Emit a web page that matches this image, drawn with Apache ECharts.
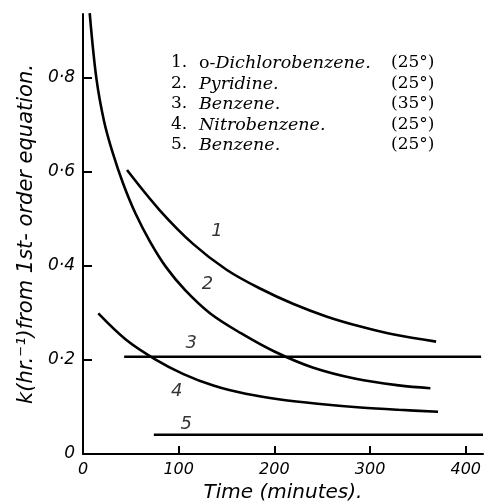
<!DOCTYPE html>
<html>
<head>
<meta charset="utf-8">
<script src="https://cdn.jsdelivr.net/npm/echarts@6/dist/echarts.min.js"></script>
<style>
html, body { margin: 0; padding: 0; background: #fff; }
#chart { width: 485px; height: 501px; }
</style>
</head>
<body>
<div id="chart"></div>
<script>
// time (minutes) and k (hr^-1)
var dichloroT = [46, 80, 115, 150, 185, 220, 255, 290, 325, 369];
var dichloroK = [0.604, 0.519, 0.447, 0.392, 0.352, 0.319, 0.292, 0.271, 0.254, 0.239];

var pyridineT = [7, 14, 22, 31, 42, 55, 70, 87, 107, 133, 165, 200, 240, 285, 330, 363];
var pyridineK = [0.938, 0.799, 0.708, 0.641, 0.575, 0.511, 0.452, 0.397, 0.348, 0.299, 0.257, 0.218, 0.184, 0.160, 0.146, 0.140];

var benzene35T = [43, 416];
var benzene35K = [0.207, 0.207];

var nitroT = [16, 45, 75, 105, 137, 170, 206, 245, 290, 330, 371];
var nitroK = [0.299, 0.243, 0.202, 0.170, 0.145, 0.128, 0.116, 0.107, 0.099, 0.094, 0.090];

var benzene25T = [74, 418];
var benzene25K = [0.041, 0.041];

var curveTags = ['1', '2', '3', '4', '5'];
var tagT = [140, 130, 113, 98, 108];
var tagK = [0.473, 0.36, 0.236, 0.133, 0.063];

var keyNames = ['o-Dichlorobenzene.', 'Pyridine.', 'Benzene.', 'Nitrobenzene.', 'Benzene.'];
var keyTemps = ['(25°)', '(25°)', '(35°)', '(25°)', '(25°)'];

var xLabelValues = [0, 100, 200, 300, 400];
var yLabelValues = [0, 0.2, 0.4, 0.6, 0.8];

function zip(a, b) {
  var out = [];
  for (var i = 0; i < a.length; i++) out.push([a[i], b[i]]);
  return out;
}

var chart = echarts.init(document.getElementById('chart'));

function curve(name, t, k, smooth) {
  return {
    name: name,
    type: 'line',
    smooth: smooth ? 0.35 : false,
    symbol: 'none',
    silent: true,
    lineStyle: { color: '#000', width: 2.6 },
    data: zip(t, k)
  };
}

var tagData = [];
for (var i = 0; i < curveTags.length; i++) {
  tagData.push({ name: curveTags[i], value: [tagT[i], tagK[i]] });
}

// key in the upper right
var keyRows = [64, 85, 105.5, 126.5, 146.5];
var graphics = [];
for (var j = 0; j < keyNames.length; j++) {
  graphics.push({
    type: 'text', left: 171, top: keyRows[j] - 10,
    style: { text: (j + 1) + '.', font: '17px "DejaVu Serif"', fill: '#000' }
  });
  var nm = keyNames[j];
  var rich = j === 0 ? '{r|o-}{i|Dichlorobenzene.}' : '{i|' + nm + '}';
  graphics.push({
    type: 'text', left: 199, top: keyRows[j] - 10,
    style: {
      text: rich,
      rich: {
        r: { font: '17.5px "DejaVu Serif"', fill: '#000' },
        i: { font: 'italic 17.5px "DejaVu Serif"', fill: '#000' }
      }
    }
  });
  graphics.push({
    type: 'text', left: 391, top: keyRows[j] - 10,
    style: { text: keyTemps[j], font: '17px "DejaVu Serif"', fill: '#000' }
  });
}

var option = {
  animation: false,
  backgroundColor: '#fff',
  grid: { left: 83, right: 2, top: 14, bottom: 47, outerBoundsMode: 'none' },
  xAxis: {
    type: 'value',
    min: 0,
    max: 418,
    interval: 100,
    name: 'Time (minutes).',
    nameLocation: 'middle',
    nameGap: 22,
    nameTextStyle: { fontFamily: 'DejaVu Sans', fontStyle: 'italic', fontSize: 20, color: '#000' },
    axisLine: { lineStyle: { color: '#000', width: 2 } },
    axisTick: { inside: true, length: 8, lineStyle: { color: '#000', width: 2 }, customValues: [100, 200, 300, 400] },
    axisLabel: {
      customValues: xLabelValues,
      margin: 8,
      fontFamily: 'DejaVu Sans', fontStyle: 'italic', fontSize: 16, color: '#000'
    },
    splitLine: { show: false }
  },
  yAxis: {
    type: 'value',
    min: 0,
    max: 0.936,
    interval: 0.2,
    name: 'k(hr.⁻¹)from 1st- order equation.',
    nameLocation: 'middle',
    nameRotate: 90,
    nameGap: 40,
    nameTextStyle: { fontFamily: 'DejaVu Sans', fontStyle: 'italic', fontSize: 21, color: '#000' },
    axisLine: { lineStyle: { color: '#000', width: 2 } },
    axisTick: { inside: true, length: 9, lineStyle: { color: '#000', width: 2 }, customValues: [0.2, 0.4, 0.6, 0.8] },
    axisLabel: {
      customValues: yLabelValues,
      margin: 8,
      fontFamily: 'DejaVu Sans', fontStyle: 'italic', fontSize: 17, color: '#000',
      formatter: function (v) { return v === 0 ? '0' : v.toFixed(1).replace('.', '·'); }
    },
    splitLine: { show: false }
  },
  graphic: graphics,
  series: [
    curve('o-Dichlorobenzene', dichloroT, dichloroK, true),
    curve('Pyridine', pyridineT, pyridineK, true),
    curve('Benzene 35', benzene35T, benzene35K, false),
    curve('Nitrobenzene', nitroT, nitroK, true),
    curve('Benzene 25', benzene25T, benzene25K, false),
    {
      type: 'scatter',
      symbolSize: 0,
      silent: true,
      label: {
        show: true,
        position: 'inside',
        formatter: '{b}',
        fontFamily: 'DejaVu Sans', fontStyle: 'italic', fontSize: 18, color: '#000'
      },
      data: tagData
    }
  ]
};

chart.setOption(option);
</script>
</body>
</html>
